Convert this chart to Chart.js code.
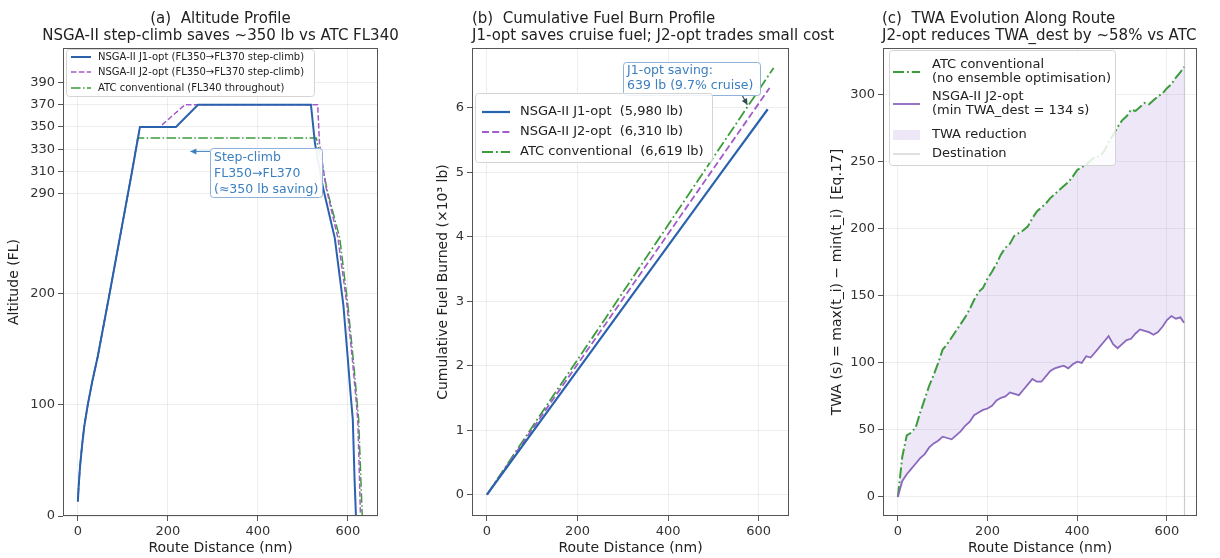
<!DOCTYPE html>
<html><head><meta charset="utf-8">
<script src="https://cdn.jsdelivr.net/npm/chart.js@4.4.1/dist/chart.umd.min.js"></script>
<style>
html,body{margin:0;padding:0;background:#fff;}
#wrap{position:relative;width:1220px;height:558px;overflow:hidden;font-family:"DejaVu Sans",sans-serif;}
canvas{position:absolute;top:0;}
.ttl{position:absolute;top:10px;font-size:15px;line-height:17px;color:#222;white-space:pre;}
</style></head><body>
<div id="wrap">
<canvas id="ca" width="400" height="558" style="left:0px"></canvas>
<canvas id="cb" width="400" height="558" style="left:400px"></canvas>
<canvas id="cc" width="420" height="558" style="left:800px"></canvas>
<div class="ttl" style="left:20px;width:401px;text-align:center">(a)  Altitude Profile<br>NSGA-II step-climb saves ~350 lb vs ATC FL340</div>
<div class="ttl" style="left:472px;text-align:left">(b)  Cumulative Fuel Burn Profile<br>J1-opt saves cruise fuel; J2-opt trades small cost</div>
<div class="ttl" style="left:882px;text-align:left">(c)  TWA Evolution Along Route<br>J2-opt reduces TWA_dest by ~58% vs ATC</div>
</div>
<script>
// ---------------- DATA ----------------
// (a) Altitude profile: route distance (nm) and flight level
const altJ1Dist  = [0,2,5,9,14,22,32,44,70,100,120,138,218,267,518,527,545,571,590,600,606,611,615,618];
const altJ1FL    = [13,28,45,62,80,100,121,143,199,265,309,350,350,370,370,335,295,250,190,141,110,87,32,0];
const altJ2Dist  = [0,2,5,9,14,22,32,44,70,100,120,138,182,238,533,537,552,578,598,610,617,622,626,628];
const altJ2FL    = [13,28,45,62,80,100,121,143,199,265,309,350,350,370,370,335,295,250,190,141,110,87,32,0];
const altATCDist = [0,2,5,9,14,22,32,44,70,100,120,133,530,540,556,582,600,612,619,624,629,632];
const altATCFL   = [13,28,45,62,80,100,121,143,199,265,309,340,340,320,290,250,190,141,110,87,32,0];
const altTicks   = [0,100,200,290,310,330,350,370,390];

// (b) Cumulative fuel burned (x10^3 lb)
const fuelDistJ1  = [0,140,260,520,620];
const fuelJ1      = [0,1.35,2.51,5.02,5.98];
const fuelDistJ2  = [0,140,260,520,624];
const fuelJ2      = [0,1.42,2.63,5.26,6.31];
const fuelDistATC = [0,140,260,520,633];
const fuelATC     = [0,1.47,2.72,5.44,6.62];
const fuelTicks   = [0,1,2,3,4,5,6];

// (c) TWA evolution (s)
const twaDist = [0,10,20,30,40,50,60,70,80,90,100,110,120,130,140,150,160,170,180,190,200,210,220,230,240,250,260,270,280,290,300,310,320,330,340,350,360,370,380,390,400,410,420,430,440,450,460,470,480,490,500,510,520,530,540,550,560,570,580,590,600,610,620,630,638];
const twaATC  = [0,30,46,48,52,63,73,83,91,100,110,114,119,124,129,134,140,147,153,156,163,168,174,181,186,189,195,197,199,202,208,213,216,219,223,226,229,232,235,239,244,246,248,251,254,254,258,265,270,276,281,284,289,288,291,294,293,296,299,301,305,308,313,317,321];
const twaJ2   = [0,12,17,21,25,29,32,37,40,42,45,44,43,46,49,53,56,61,63,65,66,68,72,74,75,78,77,76,80,84,88,86,86,90,94,96,97,98,96,99,101,100,105,104,108,112,116,120,114,111,114,117,118,122,125,124,123,121,123,127,132,135,133,134,130];
const twaDest = 638;
const twaTicks = [0,50,100,150,200,250,300];

const distTicks = [0,200,400,600];

// ---------------- STYLE ----------------
const FONT = '"DejaVu Sans", sans-serif';
const C_J1 = '#2b62ad', C_J2 = '#a35ccb', C_J2C = '#8a68bd', C_ATC = '#3a9d3a';
const BLUE_TXT = '#3a7fc0';
const GRID = 'rgba(0,0,0,0.085)';

function pts(xs, ys){ return xs.map((x,i)=>({x:x, y:ys[i]})); }

function xAxis(){
  return {
    type:'linear', min:-33, max:667,
    afterBuildTicks: s => { s.ticks = distTicks.map(v=>({value:v})); },
    afterFit: s => { s.height = 42; },
    ticks:{ font:{family:FONT,size:13}, color:'#333', padding:3, maxRotation:0, autoSkip:false, callback:v=>String(v) },
    grid:{ color:GRID, lineWidth:0.8, tickColor:'#555', tickLength:5, tickWidth:1 },
    border:{ display:false },
    title:{ display:true, text:'Route Distance (nm)', font:{family:FONT,size:14}, color:'#222', padding:{top:0,bottom:1.6} }
  };
}
function yAxis(min,max,ticks,width,title,tpad){
  return {
    type:'linear', min:min, max:max,
    afterBuildTicks: s => { s.ticks = ticks.map(v=>({value:v})); },
    afterFit: s => { s.width = width; },
    ticks:{ font:{family:FONT,size:13}, color:'#333', padding:3, autoSkip:false, callback:v=>String(v) },
    grid:{ color:GRID, lineWidth:0.8, tickColor:'#555', tickLength:5, tickWidth:1 },
    border:{ display:false },
    title:{ display:true, text:title, font:{family:FONT,size:14}, color:'#222', padding:{top:tpad,bottom:0} }
  };
}

const framePlugin = { id:'frame', afterDatasetsDraw(chart){
  const {ctx, chartArea:a} = chart;
  ctx.save(); ctx.strokeStyle='#555'; ctx.lineWidth=1; ctx.setLineDash([]);
  ctx.strokeRect(Math.round(a.left)+0.5, Math.round(a.top)+0.5, Math.round(a.right-a.left)-1, Math.round(a.bottom-a.top)-1);
  ctx.restore();
}};

function roundRect(ctx,x,y,w,h,r){
  ctx.beginPath(); ctx.moveTo(x+r,y); ctx.lineTo(x+w-r,y); ctx.quadraticCurveTo(x+w,y,x+w,y+r);
  ctx.lineTo(x+w,y+h-r); ctx.quadraticCurveTo(x+w,y+h,x+w-r,y+h); ctx.lineTo(x+r,y+h);
  ctx.quadraticCurveTo(x,y+h,x,y+h-r); ctx.lineTo(x,y+r); ctx.quadraticCurveTo(x,y,x+r,y); ctx.closePath();
}
function arrow(ctx,x0,y0,x1,y1,color,lw){
  ctx.save(); ctx.strokeStyle=color; ctx.fillStyle=color; ctx.lineWidth=lw; ctx.setLineDash([]);
  ctx.beginPath(); ctx.moveTo(x0,y0); ctx.lineTo(x1,y1); ctx.stroke();
  const ang=Math.atan2(y1-y0,x1-x0), L=6, W=3;
  ctx.beginPath(); ctx.moveTo(x1,y1);
  ctx.lineTo(x1-L*Math.cos(ang)+W*Math.sin(ang), y1-L*Math.sin(ang)-W*Math.cos(ang));
  ctx.lineTo(x1-L*Math.cos(ang)-W*Math.sin(ang), y1-L*Math.sin(ang)+W*Math.cos(ang));
  ctx.closePath(); ctx.fill(); ctx.restore();
}

function legendPlugin(spec){
  return { id:'lg', afterDraw(chart){
    const {ctx, chartArea:a} = chart;
    const L=a.left, T=a.top;
    ctx.save();
    roundRect(ctx, L+spec.x+0.5, T+spec.y+0.5, spec.w, spec.h, 3);
    ctx.fillStyle='rgba(255,255,255,0.85)'; ctx.fill();
    ctx.strokeStyle='#d4d4d4'; ctx.lineWidth=1; ctx.stroke();
    ctx.font = spec.font+'px '+FONT; ctx.textBaseline='middle'; ctx.textAlign='left';
    spec.items.forEach(it=>{
      const sy = T+it.sy;
      if(it.kind==='patch'){
        ctx.fillStyle=it.color; ctx.fillRect(L+spec.sx0, sy-5, spec.sx1-spec.sx0, 10);
      } else {
        ctx.strokeStyle=it.color; ctx.lineWidth=it.width; ctx.setLineDash(it.dash||[]);
        ctx.beginPath(); ctx.moveTo(L+spec.sx0, sy); ctx.lineTo(L+spec.sx1, sy); ctx.stroke();
        ctx.setLineDash([]);
      }
      ctx.fillStyle='#222';
      it.lines.forEach((t,k)=>{ ctx.fillText(t, L+spec.tx, T+it.ty[k]); });
    });
    ctx.restore();
  }};
}

const baseOpts = (pad) => ({
  responsive:false, animation:false, devicePixelRatio:1,
  layout:{ padding:pad },
  plugins:{ legend:{display:false}, tooltip:{enabled:false}, title:{display:false} },
  elements:{ point:{radius:0}, line:{tension:0} }
});

// ---------------- (a) ----------------
const annA = { id:'annA', afterDraw(chart){
  const {ctx, chartArea:a, scales} = chart;
  const px = scales.x.getPixelForValue(250), py = scales.y.getPixelForValue(328);
  const bx=a.left+147, by=a.top+100, bw=112, bh=49;
  ctx.save();
  roundRect(ctx,bx+0.5,by+0.5,bw,bh,3); ctx.fillStyle='rgba(255,255,255,0.92)'; ctx.fill();
  ctx.strokeStyle='#8fb2d8'; ctx.lineWidth=1; ctx.stroke();
  ctx.font='12.5px '+FONT; ctx.fillStyle=BLUE_TXT; ctx.textBaseline='middle'; ctx.textAlign='left';
  ['Step-climb','FL350\u2192FL370','(\u2248350 lb saving)'].forEach((t,k)=>ctx.fillText(t,bx+4,by+10+k*16));
  ctx.restore();
  arrow(ctx,bx,py,px,py,BLUE_TXT,1);
}};
const cfgA = {
  type:'line',
  data:{ datasets:[
    {label:'NSGA-II J1-opt (FL350\u2192FL370 step-climb)', data:pts(altJ1Dist,altJ1FL), borderColor:C_J1, borderWidth:2},
    {label:'NSGA-II J2-opt (FL350\u2192FL370 step-climb)', data:pts(altJ2Dist,altJ2FL), borderColor:C_J2, borderWidth:1.5, borderDash:[5.5,2.4]},
    {label:'ATC conventional (FL340 throughout)', data:pts(altATCDist,altATCFL), borderColor:C_ATC, borderWidth:1.5, borderDash:[9.6,2.4,1.5,2.4]}
  ]},
  options:Object.assign(baseOpts({left:0,right:22,top:48,bottom:0}),{
    scales:{ x:xAxis(), y:yAxis(0,421,altTicks,63,'Altitude (FL)',5.6) }
  }),
  plugins:[framePlugin, annA, legendPlugin({x:3,y:1,w:248,h:47,font:10,sx0:8,sx1:28,tx:35,items:[
    {sy:9, ty:[9], lines:['NSGA-II J1-opt (FL350\u2192FL370 step-climb)'], color:C_J1, width:2},
    {sy:24, ty:[24], lines:['NSGA-II J2-opt (FL350\u2192FL370 step-climb)'], color:C_J2, width:1.5, dash:[5.5,2.4]},
    {sy:40, ty:[40], lines:['ATC conventional (FL340 throughout)'], color:C_ATC, width:1.5, dash:[9.6,2.4,1.5,2.4]}
  ]})]
};
new Chart(document.getElementById('ca'), cfgA);

// ---------------- (b) ----------------
const annB = { id:'annB', afterDraw(chart){
  const {ctx, chartArea:a, scales} = chart;
  const px = scales.x.getPixelForValue(575), py = scales.y.getPixelForValue(6.05);
  const bx=a.left+151, by=a.top+14, bw=137, bh=33;
  arrow(ctx,a.left+270,by+bh,px,py,'#2f4f4f',1.2);
  ctx.save();
  roundRect(ctx,bx+0.5,by+0.5,bw,bh,3); ctx.fillStyle='rgba(255,255,255,0.92)'; ctx.fill();
  ctx.strokeStyle='#8fb2d8'; ctx.lineWidth=1; ctx.stroke();
  ctx.font='12.5px '+FONT; ctx.fillStyle=BLUE_TXT; ctx.textBaseline='middle'; ctx.textAlign='left';
  ['J1-opt saving:','639 lb (9.7% cruise)'].forEach((t,k)=>ctx.fillText(t,bx+4,by+9+k*15));
  ctx.restore();
}};
const cfgB = {
  type:'line',
  data:{ datasets:[
    {label:'NSGA-II J1-opt  (5,980 lb)', data:pts(fuelDistJ1,fuelJ1), borderColor:C_J1, borderWidth:2.2},
    {label:'NSGA-II J2-opt  (6,310 lb)', data:pts(fuelDistJ2,fuelJ2), borderColor:C_J2, borderWidth:1.8, borderDash:[7,3.2]},
    {label:'ATC conventional  (6,619 lb)', data:pts(fuelDistATC,fuelATC), borderColor:C_ATC, borderWidth:1.8, borderDash:[11,3,1.8,3]}
  ]},
  options:Object.assign(baseOpts({left:0,right:11,top:48,bottom:0}),{
    scales:{ x:xAxis(), y:yAxis(-0.33,6.93,fuelTicks,72,'Cumulative Fuel Burned (\u00d710\u00b3 lb)',34.6) }
  }),
  plugins:[framePlugin, annB, legendPlugin({x:3,y:45,w:237,h:69,font:13,sx0:10,sx1:38,tx:48,items:[
    {sy:64, ty:[64], lines:['NSGA-II J1-opt  (5,980 lb)'], color:C_J1, width:2.2},
    {sy:84, ty:[84], lines:['NSGA-II J2-opt  (6,310 lb)'], color:C_J2, width:1.8, dash:[7,3.2]},
    {sy:104, ty:[104], lines:['ATC conventional  (6,619 lb)'], color:C_ATC, width:1.8, dash:[11,3,1.8,3]}
  ]})]
};
new Chart(document.getElementById('cb'), cfgB);

// ---------------- (c) ----------------
const FILL_C = 'rgba(150,110,205,0.17)';
const destPlugin = { id:'dest', beforeDatasetsDraw(chart){
  const {ctx, chartArea:a, scales} = chart;
  const x = Math.round(scales.x.getPixelForValue(twaDest))+0.5;
  ctx.save(); ctx.strokeStyle='#cccccc'; ctx.lineWidth=1.2;
  ctx.beginPath(); ctx.moveTo(x,a.top); ctx.lineTo(x,a.bottom); ctx.stroke(); ctx.restore();
}};
const cfgC = {
  type:'line',
  data:{ datasets:[
    {label:'NSGA-II J2-opt', data:pts(twaDist,twaJ2), borderColor:C_J2C, borderWidth:1.8},
    {label:'ATC conventional', data:pts(twaDist,twaATC), borderColor:C_ATC, borderWidth:2, borderDash:[11,3,1.8,3]},
    {label:'TWA reduction', data:pts(twaDist,twaJ2), borderWidth:0, borderColor:'rgba(0,0,0,0)', backgroundColor:FILL_C, fill:'-1'}
  ]},
  options:Object.assign(baseOpts({left:0,right:23,top:48,bottom:0}),{
    scales:{ x:xAxis(), y:yAxis(-14.2,335,twaTicks,83,'TWA (s) = max(t_i) \u2212 min(t_i)  [Eq.17]',28.6) }
  }),
  plugins:[destPlugin, framePlugin, legendPlugin({x:6,y:2,w:226,h:115,font:13,sx0:10,sx1:37,tx:49,items:[
    {sy:24, ty:[17,31], lines:['ATC conventional','(no ensemble optimisation)'], color:C_ATC, width:2, dash:[11,3,1.8,3]},
    {sy:56, ty:[49,63], lines:['NSGA-II J2-opt','(min TWA_dest = 134 s)'], color:C_J2C, width:1.8},
    {sy:87, ty:[87], lines:['TWA reduction'], kind:'patch', color:FILL_C},
    {sy:106, ty:[106], lines:['Destination'], color:'#cccccc', width:1.2}
  ]})]
};
new Chart(document.getElementById('cc'), cfgC);
</script>
</body></html>
